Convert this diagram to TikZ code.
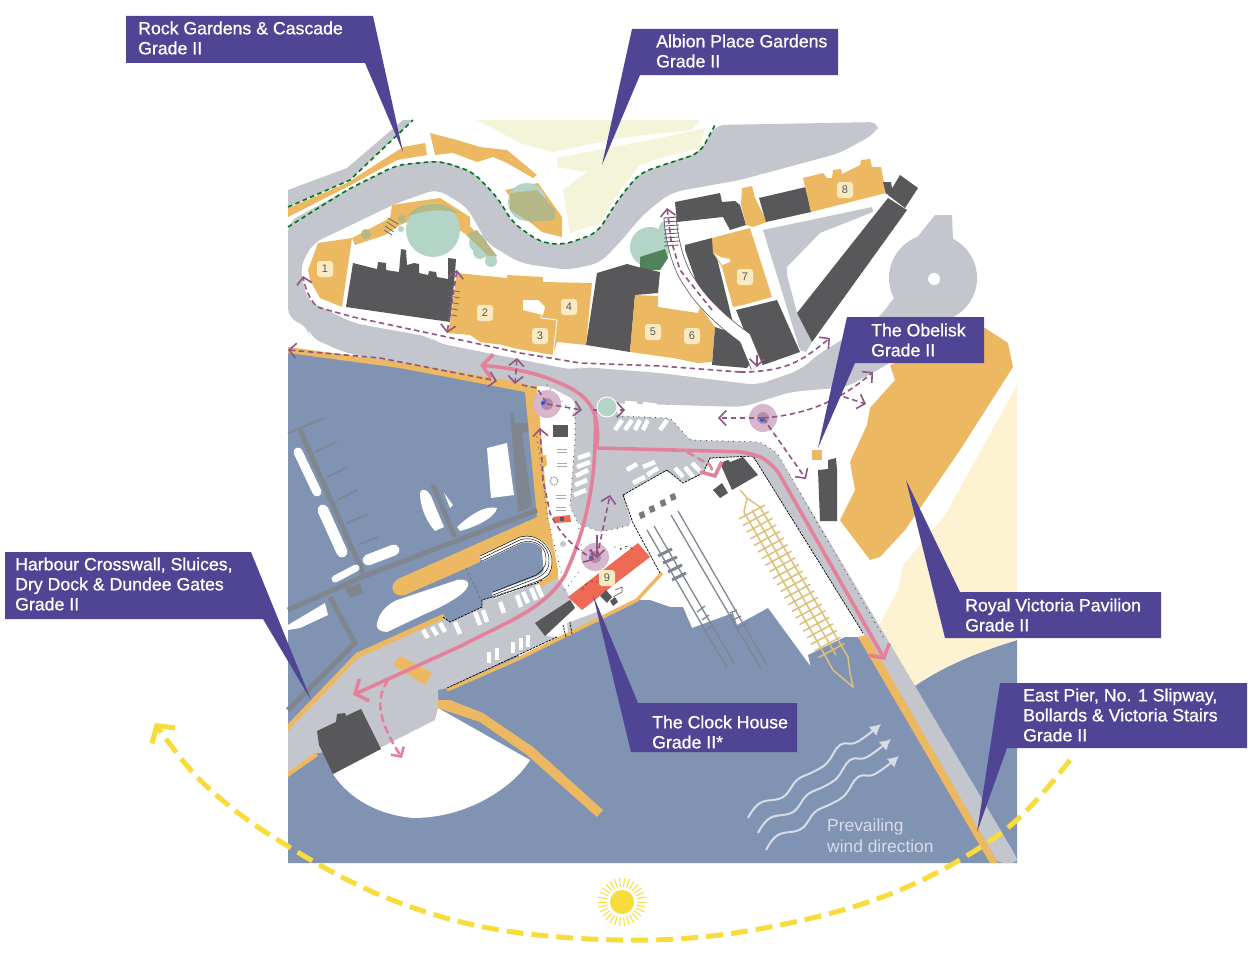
\documentclass[tikz,border=0pt]{standalone}
\usepackage{fontspec}
\setmainfont{Liberation Sans}
\newfontfamily\labelfont[FakeBold=0.9]{Liberation Sans}
\usetikzlibrary{arrows.meta}
\definecolor{waterblue}{HTML}{8093B3}
\definecolor{roadgrey}{HTML}{C4C6CE}
\definecolor{listed}{HTML}{ECB862}
\definecolor{darkbuild}{HTML}{58585A}
\definecolor{calloutblue}{HTML}{4F4594}
\definecolor{routepink}{HTML}{E5809A}
\definecolor{routeplum}{HTML}{8F5585}
\definecolor{sunyellow}{HTML}{F8DC3C}
\definecolor{beachcream}{HTML}{FDF3D2}
\definecolor{gardencream}{HTML}{F3F4D8}
\definecolor{treeteal}{HTML}{B3D5C8}
\definecolor{treeolive}{HTML}{B5B786}
\definecolor{clockred}{HTML}{EE6A55}
\definecolor{pontoon}{HTML}{80868F}
\definecolor{wavegrey}{HTML}{D8DCE6}
\definecolor{latticetan}{HTML}{DCC07A}
\definecolor{hubpink}{HTML}{D8B6CB}
\definecolor{hubinner}{HTML}{B48BAB}
\begin{document}
\begin{tikzpicture}[x=1pt,y=-1pt,
    road/.style={fill=roadgrey,rounded corners=10pt},
    build/.style={fill=darkbuild},
    heritage/.style={fill=listed},
    callout/.style={fill=calloutblue},
    calltext/.style={anchor=west,inner sep=0pt,align=left,text=white,font=\labelfont\fontsize{17.7}{20}\selectfont},
    numbox/.style={fill=beachcream!85!listed,rounded corners=3pt,inner sep=0pt,minimum size=16pt,text=darkbuild,font=\fontsize{11}{11}\selectfont},
    bay/.style={draw=white,line width=4.5pt},
    finger/.style={draw=pontoon,line width=1.6pt},
    pontoonline/.style={draw=pontoon,line width=5pt},
    boatline/.style={draw=white,line cap=round},
    walkroute/.style={draw=routeplum,line width=1.6pt,dash pattern=on 5.5pt off 3.5pt},
    walkhead/.style={-{Straight Barb[length=7pt,width=15pt,line width=1.6pt]}},
    walkheads/.style={{Straight Barb[length=7pt,width=15pt,line width=1.6pt]}-{Straight Barb[length=7pt,width=15pt,line width=1.6pt]}},
    mainroute/.style={draw=routepink,line width=3.6pt},
    mainhead/.style={-{Straight Barb[length=10pt,width=24pt,line width=3.6pt]}},
    greendash/.style={draw=green!45!black!80!teal,line width=1.6pt,dash pattern=on 4.5pt off 3.5pt},
    dotline/.style={draw=black!75,line width=1.1pt,line cap=round,dash pattern=on 0pt off 5.5pt},
    quayline/.style={draw=black,line width=.7pt,dash pattern=on 2.5pt off 1pt},
    hub/.style={fill=hubpink},
    tierail/.style={draw=pontoon,line width=1.3pt},
    lattice/.style={draw=latticetan,line width=1.5pt}]
\useasboundingbox (0,0) rectangle (1252,958);

% water and beach
\fill[waterblue] (288,350) -- (527,388) -- (545,585) -- (505,640) -- (520,658) -- (637,600) -- (650,600) -- (670,607) -- (683,607) -- (692,628) -- (733,613) -- (737,625) -- (768,608) -- (822,682) -- (815,686) -- (808,655) -- (845,637) -- (857,637) -- (913,687) .. controls (950,662) and (985,650) .. (1017,640) -- (1017,863) -- (288,863) -- cycle;
\fill[beachcream] (1017,385) -- (1017,640) .. controls (985,650) and (950,662) .. (913,687) -- (878,627) -- (898,590) -- (903,565) -- (945,515) -- cycle;

% gardens
\fill[gardencream] (477,120) -- (700,120) -- (692,130) -- (620,138) -- (553,152) -- (520,143) -- cycle;
\fill[gardencream] (705,128) -- (660,138) -- (557,158) -- (557,167) -- (587,172) -- (563,190) -- (570,233) -- (600,223) -- (620,190) -- (640,165) -- (660,158) -- (700,148) -- cycle;

% roads
\filldraw[road,draw=none] (288,222) -- (347,190) -- (397,165) -- (440,160) -- (473,172) -- (497,197) -- (513,223) -- (540,242) -- (563,245) -- (597,233) -- (620,197) -- (640,173) -- (660,166) -- (700,152) -- (715,125) -- (880,122) -- (876,133) -- (840,153) -- (740,180) -- (673,192) -- (657,203) -- (640,218) -- (622,240) -- (600,263) -- (567,270) -- (520,263) -- (487,243) -- (467,207) -- (437,189) -- (397,203) -- (347,227) -- (313,243) -- (300,267) -- (307,300) -- (353,323) -- (430,337) -- (437,343) -- (573,370) -- (583,367) -- (660,373) -- (757,385) -- (800,370) -- (820,353) -- (847,337) -- (880,317) -- (897,293) -- (950,317) -- (890,363) -- (847,387) -- (790,392) -- (743,407) -- (640,404) -- (600,403) -- (575,400) -- (547,385) -- (527,388) -- (400,365) -- (343,352) -- (310,337) -- (308,327) -- (288,318) -- cycle;
\fill[roadgrey] (288,190) -- (347,168) -- (403,120) -- (413,120) -- (350,180) -- (288,207) -- cycle;
\fill[roadgrey] (933,278) circle (44);
\fill[roadgrey] (935,215) -- (952,215) -- (953,240) -- (915,240) -- cycle;
\fill[white] (934,279) circle (6);
\fill[roadgrey] (763,230) -- (872,207) -- (873,212) -- (820,233) -- (787,267) -- (787,275) -- (797,313) -- (812,342) -- (806,352) -- (800,350) -- cycle;
\fill[road,rounded corners=5pt] (547,385) -- (575,400) -- (575,440) -- (570,507) -- (578,523) -- (600,532) -- (632,525) -- (623,495) -- (667,470) -- (683,483) -- (703,473) -- (710,458) -- (753,456) -- (863,633) -- (998,863) -- (1017,863) -- (1017,858) -- (777,453) -- (760,442) -- (690,440) -- (670,418) -- (617,416) -- (617,404) -- (600,403) -- cycle;
\fill[roadgrey] (288,727) -- (357,655) -- (443,617) -- (450,622) -- (482,607) -- (482,600) -- (537,583) -- (558,578) -- (567,592) -- (575,608) -- (545,636) -- (557,637) -- (447,688) -- (438,690) -- (438,708) -- (435,720) -- (380,748) -- (317,753) -- (288,773) -- cycle;
\fill[roadgrey] (567,623) -- (597,612) -- (603,620) -- (568,632) -- cycle;

% beach below the slipway
\fill[white] (333,774) -- (380,748) -- (435,720) -- (438,708) -- (530,760) .. controls (515,785) and (470,818) .. (413,818) .. controls (380,815) and (350,800) .. (333,774) -- cycle;

% harbour walls and quays
\fill[heritage] (288,347) -- (400,362) -- (523,383) -- (530,387) -- (537,385) -- (548,517) -- (558,570) -- (558,578) -- (540,587) -- (537,583) .. controls (552,565) and (553,545) .. (540,542) .. controls (530,535) and (525,536) .. (520,538) -- (480,557) -- (480,562) -- (405,595) .. controls (392,598) and (388,585) .. (398,579) -- (537,517) -- (525,392) -- (400,368) -- (288,353) -- cycle;
\fill[heritage] (438,700) -- (450,700) -- (483,713) -- (533,747) -- (603,810) -- (597,817) -- (527,755) -- (480,722) -- (438,708) -- cycle;
\fill[heritage] (858,637) -- (867,635) -- (998,863) -- (990,863) -- cycle;
\fill[heritage] (288,724) -- (356,653) -- (443,614) -- (446,618) -- (358,658) -- (288,731) -- cycle;
\fill[heritage] (288,772) -- (316,752) -- (318,756) -- (288,777) -- cycle;
\draw[listed,line width=3.5pt] (447,690) -- (520,658) -- (637,600) -- (662,573);
\fill[heritage] (393,665) -- (400,656) -- (432,673) -- (425,685) -- cycle;
\fill[heritage] (540,456) -- (546,455) -- (547,465) -- (541,470) -- cycle;

% pontoons
\draw[pontoonline] (288,610) -- (362,577) -- (537,510);
\fill[pontoon] (510,413) -- (513,413) -- (515,423) -- (528,423) -- (528,432) -- (522,433) -- (528,475) -- (532,507) -- (518,512) -- cycle;
\draw[pontoonline] (300,430) -- (363,573);
\draw[pontoonline] (433,485) -- (455,537);
\draw[pontoonline] (330,597) -- (355,643) -- (288,710);
\fill[pontoon] (345,588) -- (360,583) -- (363,593) -- (350,598) -- cycle;
\foreach \xa/\ya/\xb/\yb in {288/433/325/418,315/452/337/442,327/477/348/467,337/500/358/490,347/523/368/514,358/545/378/537}
  \draw[finger] (\xa,\ya) -- (\xb,\yb);

% boats
\draw[boatline,line width=9pt] (298,452) -- (317,492);
\draw[boatline,line width=11pt] (323,510) -- (342,552);
\draw[boatline,line width=11pt] (368,560) -- (394,550);
\draw[boatline,line width=7pt] (335,579) -- (356,568);
\fill[white] (288,625) -- (325,603) -- (328,615) -- (300,628) -- (288,630) -- cycle;
\fill[white] (487,448) -- (507,443) -- (514,495) -- (491,498) -- cycle;
\fill[white] (420,493) .. controls (422,487) and (428,490) .. (431,496) -- (444,527) -- (435,531) .. controls (425,520) and (420,505) .. (420,493) -- cycle;
\fill[white] (444,493) -- (453,505) -- (450,508) -- cycle;
\fill[white] (457,527) .. controls (470,515) and (485,505) .. (497,508) .. controls (495,518) and (475,527) .. (460,531) -- cycle;
\fill[white] (377,623) .. controls (380,610) and (390,603) .. (397,600) -- (457,580) .. controls (465,578) and (470,582) .. (468,586) .. controls (465,595) and (440,608) .. (427,613) -- (387,632) .. controls (380,632) and (375,628) .. (377,623) -- cycle;

% basin rings and gate
\draw[white,line width=6pt] (481,559) -- (521,540) .. controls (540,536) and (551,550) .. (549,562) .. controls (549,572) and (544,576) .. (538,579) -- (493,596);
\foreach \off in {0,3,6}
  \draw[black,line width=.45pt] ([shift={(\off*.2,\off*.9)}]480,556) -- ([shift={(\off*.2,\off*.9)}]520,537) .. controls ([shift={(\off*-.2,\off)}]540,532) and ([shift={(-\off,0)}]553,550) .. ([shift={(-\off,\off*-.3)}]552,562) .. controls ([shift={(-\off,-\off)}]552,575) and ([shift={(-\off,-\off)}]545,578) .. ([shift={(-\off*.3,-\off)}]538,581) -- ([shift={(0,-\off)}]493,598);
\draw[darkbuild!80,line width=1pt,dash pattern=on 3pt off 2pt] (466,568) -- (482,602);

% parking bays
\foreach \xa/\ya/\xb/\yb in {615/430/622/420,625/430/632/420,635/430/640/420,643/430/648/420,660/430/667/420,625/403/637/404,643/404/657/406,670/407/683/408,685/408/698/409,702/409/713/410,733/409/746/409,578/458/590/454,577/467/590/462,576/476/588/470,575/485/587/480,574/495/586/490,627/470/637/464,643/467/655/462,647/475/658/468,633/483/645/477,675/468/683/477,685/467/693/477,692/463/702/473,500/602/504/613,517/595/521/607,523/592/528/603,531/588/536/600,537/585/542/597,475/612/480/625,483/610/487/622,455/622/460/634,423/630/428/638,432/627/437/635,440/623/445/632,489/652/489/663,497/648/497/660,513/642/513/653,521/638/521/650,528/635/528/647}
  \draw[bay] (\xa,\ya) -- (\xb,\yb);

% trees
\fill[heritage] (308,270) -- (318,243) -- (352,238) -- (342,307) -- (320,298) -- (310,280) -- cycle;
\fill[heritage] (352,238) -- (390,218) -- (392,205) -- (440,198) -- (470,217) -- (470,226) -- (497,256) -- (490,262) -- (467,235) -- (432,212) -- (400,225) -- (385,235) -- (355,245) -- cycle;
\fill[treeteal] (433,230) circle (27);
\fill[treeolive] (408,216) .. controls (420,200) and (445,200) .. (459,214) .. controls (445,208) and (425,210) .. (408,216) -- cycle;
\fill[treeteal] (478,243) circle (9) (480,252) circle (7) (491,261) circle (6) (401,229) circle (3);
\fill[treeolive] (366,234) circle (5) (402,219) circle (4);
\fill[treeolive] (466,235) -- (477,230) -- (497,256) -- (489,256) -- cycle;
\fill[heritage] (430,133) -- (457,140) -- (480,147) -- (507,150) -- (537,175) -- (533,178) -- (507,163) -- (493,157) -- (477,162) -- (453,153) -- (435,155) -- cycle;
\fill[heritage] (505,190) -- (538,183) -- (562,217) -- (562,237) -- (542,232) -- (525,218) -- cycle;
\fill[treeteal] (527,202) circle (19);
\fill[treeolive] (510,193) -- (537,190) -- (555,210) -- (555,220) -- (530,222) -- (510,210) -- cycle;
\fill[heritage] (288,217) -- (288,208) -- (347,183) -- (403,147) -- (425,143) -- (427,155) -- (397,160) -- (347,187) -- cycle;
\fill[treeteal] (650,247) circle (20) (666,228) circle (7);
\fill[green!25!black!55!treeteal] (640,257) -- (665,249) -- (668,258) -- (660,270) -- (640,270) -- cycle;

% buildings
\fill[build] (346,307) -- (353,263) -- (377,269) -- (378,262) -- (386,263) -- (386,270) -- (399,272) -- (401,249) -- (406,250) -- (407,265) -- (414,263) -- (419,264) -- (419,273) -- (428,275) -- (429,271) -- (436,272) -- (437,277) -- (448,279) -- (448,258) -- (456,259) -- (455,273) -- (450,322) -- cycle;
\fill[heritage] (457,273) -- (507,278) -- (507,275) -- (543,277) -- (543,282) -- (592,283) -- (586,345) -- (557,342) -- (553,355) -- (513,348) -- (503,345) -- (480,342) -- (470,335) -- (447,333) -- (450,323) -- cycle;
\fill[white] (523,300) -- (538,300) -- (545,307) -- (543,315) -- (523,310) -- cycle;
\draw[white,line width=.9pt] (541,315) -- (541,318) (541,318) -- (557,320) -- (553,355);
\fill[build] (597,273) -- (627,264) -- (638,267) -- (660,272) -- (658,293) -- (635,295) -- (630,352) -- (586,345) -- cycle;
\fill[heritage] (635,295) -- (658,296) -- (658,307) -- (698,313) -- (700,307) -- (715,327) -- (712,362) -- (698,363) -- (673,358) -- (630,352) -- cycle;
\fill[build] (715,327) -- (712,365) -- (747,368) -- (752,360) -- (733,333) -- cycle;
\fill[build] (685,245) -- (712,238) -- (733,323) -- (723,317) -- (698,287) -- (685,250) -- cycle;
\fill[build] (675,202) -- (720,193) -- (722,202) -- (735,201) -- (740,205) -- (746,225) -- (730,230) -- (723,217) -- (677,222) -- cycle;
\fill[heritage] (742,188) -- (752,186) -- (755,198) -- (767,222) -- (753,227) -- (746,225) -- (741,205) -- cycle;
\fill[heritage] (712,238) -- (750,228) -- (772,297) -- (743,305) -- (733,307) -- (722,267) -- (713,253) -- cycle;
\fill[white] (714,253) -- (720,257) -- (730,259) -- (730,262) -- (722,265) -- cycle;
\fill[build] (736,310) -- (777,300) -- (800,352) -- (763,365) -- (752,350) -- cycle;
\fill[build] (759,198) -- (806,187) -- (811,212) -- (766,222) -- cycle;
\fill[heritage] (803,178) -- (823,173) -- (827,178) -- (832,178) -- (833,170) -- (841,169) -- (842,174) -- (860,165) -- (861,160) -- (870,159) -- (872,167) -- (881,167) -- (886,193) -- (811,212) -- cycle;
\fill[build] (883,182) -- (891,182) -- (893,194) -- (886,194) -- cycle;
\fill[build] (900,175) -- (918,188) -- (905,208) -- (888,195) -- cycle;
\fill[build] (888,198) -- (907,210) -- (812,342) -- (797,313) -- cycle;
\fill[build] (317,731) -- (336,722) -- (337,714) -- (345,713) -- (346,716) -- (361,709) -- (381,749) -- (333,774) -- (319,745) -- cycle;
\fill[build] (535,623) -- (570,600) -- (575,608) -- (545,636) -- cycle;
\fill[build] (720,463) -- (728,460) -- (730,462) -- (743,457) -- (758,475) -- (732,490) -- cycle;
\fill[build] (713,490) -- (722,483) -- (728,493) -- (720,498) -- cycle;
\fill[build] (818,470) -- (828,469) -- (828,460) -- (836,458) -- (837,470) -- (837,521) -- (820,521) -- cycle;
\fill[heritage] (812,450) rectangle (822,460);
\fill[build] (553,425) rectangle (568,437);
\fill[heritage] (840,520) -- (855,490) -- (850,462) -- (867,425) -- (870,408) -- (895,380) -- (890,365) -- (985,328) -- (1008,343) -- (1013,367) -- (960,450) -- (905,530) -- (880,557) -- (870,560) -- (842,523) -- cycle;

% clock house
\fill[clockred] (568,597) -- (638,543) -- (650,557) -- (620,580) -- (582,610) -- cycle;
\fill[clockred] (553,517) -- (570,515) -- (571,522) -- (555,523) -- cycle;
\fill[build] (560,517) rectangle (564,521);
\fill[build] (600,596) -- (606,590) -- (612,597) -- (607,603) -- cycle;
\fill[build] (610,601) -- (615,597) -- (618,602) -- (613,606) -- cycle;
\draw[darkbuild,line width=.6pt] (615,590) -- (622,587) -- (622,592) -- (613,597);

% island furniture
\foreach \xa/\ya in {557/449,557/452,557/463,557/466,556/495,556/498,556/507,556/510}
  \draw[pontoon!70,line width=1pt] (\xa,\ya) -- ++(10,0);
\draw[pontoon!70,densely dotted,line width=1.5pt] (554,481) circle (4);
\fill[roadgrey] (563,544) circle (3);

% slipway and rails
\foreach \xa/\ya/\xb/\yb in {647/530/727/668,654/526/734/663,671/515/761/669,678/511/767/665}
  \draw[tierail] (\xa,\ya) -- (\xb,\yb);
\foreach \xa/\ya/\xb/\yb in {658/556/672/549,663/563/677/557,668/572/682/565,672/580/686/573}
  \draw[pontoon,line width=3pt] (\xa,\ya) -- (\xb,\yb);
\foreach \xa/\ya/\xb/\yb in {697/612/705/606,702/620/709/615,704/632/713/625,730/613/737/610,733/620/741/616,738/628/747/623}
  \draw[tierail] (\xa,\ya) -- (\xb,\yb);
\foreach \cx/\cy in {642/515,652/509,663/503,673/497}
  \fill[darkbuild!80] (\cx-3.5,\cy-2) -- (\cx+1.5,\cy-4) -- (\cx+3.5,\cy+2) -- (\cx-1.5,\cy+4) -- cycle;

% lattice pier
\draw[lattice] (740,490) -- (747,498);
\draw[lattice] (744,512) -- (747,498) -- (760,507);
\draw[lattice] (744,512) -- (822,650) -- (833,670) -- (853,687) -- (850,673) -- (848,657) -- (760,507);
\draw[lattice] (752,510) -- (836,655);
\foreach \i in {0,...,21}
  \draw[lattice] (752+\i*3.78-13,512+\i*6.6+7) -- (752+\i*3.78+13,512+\i*6.6-7);

% dotted and dashed edges
\draw[quayline] (623,495) -- (667,470) -- (683,483) -- (703,473) -- (710,458) -- (753,456) -- (863,633);
\draw[quayline] (623,495) -- (633,523) -- (660,573);
\draw[quayline] (443,617) -- (450,622) -- (482,607) -- (482,600) -- (537,583) -- (542,580);
\draw[quayline] (447,688) -- (557,637);
\draw[quayline] (566,637) -- (563,625) (572,634) -- (570,622);
\draw[dotline] (617,416) -- (670,418) -- (690,440) -- (760,442) -- (777,453) -- (885,640);
\draw[dotline] (547,385) -- (575,415) -- (575,440) -- (570,507) -- (578,523) -- (600,532) -- (632,525);
\draw[dotline] (537,437) -- (548,520) -- (562,575);
\draw[dotline] (578,523) -- (582,552);
\draw[dotline] (565,590) -- (580,570);
\draw[dotline] (615,547) .. controls (620,550) and (625,548) .. (632,548);
\draw[black!70,line width=.6pt,dashed] (582,590) .. controls (585,583) and (590,580) .. (598,582);
\draw[black!70,line width=.6pt,dashed] (620,550) .. controls (625,545) and (630,545) .. (633,550);

% stair path
\draw[darkbuild,line width=13pt] (670,217) .. controls (672,245) and (680,270) .. (690,283) .. controls (700,300) and (720,320) .. (745,338) -- (757,367);
\draw[white,line width=11.5pt] (670,217) .. controls (672,245) and (680,270) .. (690,283) .. controls (700,300) and (720,320) .. (745,338) -- (757,367);
\foreach \yy in {218,222,226,230,234,238,242,246}
  \draw[darkbuild,line width=.8pt] (664,\yy) -- (679,\yy-1);
\foreach \xa/\ya/\xb/\yb in {448/290/460/292,448/296/460/298,448/302/459/304,447/308/458/310,447/314/457/316,388/218/398/224,387/222/396/228,385/226/394/232,384/230/392/235}
  \draw[darkbuild!90,line width=.8pt] (\xa,\ya) -- (\xb,\yb);

% green paths
\draw[greendash,rounded corners=10pt] (288,227) -- (347,190) -- (397,165) -- (440,161) -- (473,172) -- (497,197) -- (513,223) -- (540,242) -- (563,245) -- (597,233) -- (620,197) -- (640,173) -- (660,166) -- (700,153) -- (715,125);
\draw[greendash] (288,207) -- (350,180) -- (413,120);

% pink route
\draw[mainroute,mainhead] (597,448) .. controls (600,410) and (590,395) .. (557,382) .. controls (535,372) and (510,368) .. (480,365);
\draw[mainroute,mainhead] (595,410) .. controls (597,470) and (590,520) .. (565,575) .. controls (545,610) and (500,625) .. (463,645) -- (353,695);
\draw[mainroute,mainhead,rounded corners=14pt] (597,448) -- (750,452) -- (773,463) -- (885,660);
\draw[routepink,line width=2.5pt,dash pattern=on 8pt off 4pt,mainhead] (687,452) -- (710,465) -- (716,478);
\draw[routepink,line width=2.5pt,dash pattern=on 8pt off 4pt,-{Straight Barb[length=7pt,width=15pt,line width=2.5pt]}] (388,680) .. controls (375,700) and (378,720) .. (402,758);

% visitor hubs
\fill[hub] (547,404) circle (14) (763,418) circle (14) (595,557) circle (14);
\fill[hubinner] (547,404) circle (6) (763,418) circle (6) (595,557) circle (6);
\foreach \cx/\cy in {543/403,762/420,591/558}
  \fill[blue!60!cyan] (\cx,\cy) circle (2);

% walking routes
\draw[walkroute,walkhead] (740,372) -- (660,366) -- (580,363) -- (520,353) -- (447,337) -- (353,317) -- (317,307) .. controls (308,297) and (305,287) .. (303,276);
\draw[walkroute,walkhead] (740,372) .. controls (790,372) and (805,358) .. (830,338);
\draw[walkroute,walkheads] (457,270) -- (447,333);
\draw[walkroute,walkheads] (288,350) -- (380,358) -- (497,381);
\draw[walkroute,walkheads] (517,358) -- (515,384);
\draw[walkroute] (522,385) -- (537,388) -- (547,404);
\draw[walkroute,walkhead] (547,404) -- (582,410);
\draw[walkroute,walkhead] (593,410) -- (625,410);
\draw[walkroute,walkhead] (763,418) -- (718,418);
\draw[walkroute,walkhead] (763,418) .. controls (800,415) and (835,405) .. (873,372);
\draw[walkroute,walkhead] (835,394) -- (866,404);
\draw[walkroute,walkhead] (763,418) -- (806,479);
\draw[walkroute,walkheads] (540,428) -- (543,480) -- (550,513) .. controls (560,535) and (575,548) .. (594,560);
\draw[walkroute,walkhead] (597,557) -- (610,495);
\draw[routeplum,line width=1.6pt,-{Straight Barb[length=7pt,width=15pt,line width=1.6pt]}] (597,535) -- (597,558);
\draw[routeplum,line width=1.6pt,-{Straight Barb[length=7pt,width=15pt,line width=1.6pt]}] (757,355) -- (757,367);
\draw[walkroute,walkhead] (712,310) -- (680,270) -- (671,240) -- (667,208);

% small tree by the road
\fill[treeteal,draw=white,line width=1pt] (607,407) circle (10);

% wind
\foreach \dx/\dy in {0/0,10/15,18/32}
  \draw[wavegrey,line width=2pt,-{Latex[length=11pt,width=12pt]}] plot[smooth,tension=.7] coordinates {(748+\dx,818+\dy) (760+\dx,803+\dy) (783+\dx,797+\dy) (797+\dx,780+\dy) (813+\dx,772+\dy) (827+\dx,763+\dy) (840+\dx,745+\dy) (857+\dx,742+\dy) (881+\dx,724+\dy)};
\node[anchor=west,inner sep=0pt,align=left,text=wavegrey,font=\fontsize{17.4}{21}\selectfont] (WindText) at (827,836) {Prevailing\\wind direction};

% sun path
\draw[sunyellow,line width=5pt,dash pattern=on 17pt off 8pt,-{Straight Barb[length=12pt,width=28pt,line width=5pt]}] plot[smooth,tension=.6] coordinates {(1070,760) (1005,830) (900,890) (780,925) (650,940) (500,930) (380,895) (270,835) (200,780) (155,723)};
\fill[sunyellow] (622,902) circle (12);
\foreach \a in {0,12,...,348}
  \draw[sunyellow,line width=1pt] (622,902) ++(\a:15) -- ++(\a:9);

% numbers
\node[numbox] (Num1) at (325,269) {1};
\node[numbox] (Num2) at (485,313) {2};
\node[numbox] (Num3) at (540,336) {3};
\node[numbox] (Num4) at (569,307) {4};
\node[numbox] (Num5) at (653,332) {5};
\node[numbox] (Num6) at (692,336) {6};
\node[numbox] (Num7) at (745,277) {7};
\node[numbox] (Num8) at (845,190) {8};
\node[numbox] (Num9) at (607,578) {9};

% callouts
\fill[callout] (126,16) -- (373,16) -- (403,152) -- (365,63) -- (126,63) -- cycle;
\fill[callout] (632,29) -- (838,29) -- (838,75) -- (640,75) -- (602,165) -- cycle;
\fill[callout] (847,317) -- (984,317) -- (984,363) -- (855,363) -- (818,448) -- cycle;
\fill[callout] (906,480) -- (960,592) -- (1161,592) -- (1161,638) -- (945,638) -- cycle;
\fill[callout] (1000,683) -- (1247,683) -- (1247,748) -- (1007,748) -- (977,832) -- cycle;
\fill[callout] (593,595) -- (638,703) -- (797,703) -- (797,752) -- (631,752) -- cycle;
\fill[callout] (5,552) -- (251,552) -- (311,700) -- (263,619) -- (5,619) -- cycle;
\node[calltext] (RockLabel) at (138,38) {Rock Gardens \& Cascade\\Grade II};
\node[calltext] (AlbionLabel) at (656,51) {Albion Place Gardens\\Grade II};
\node[calltext] (ObeliskLabel) at (871,340) {The Obelisk\\Grade II};
\node[calltext] (PavilionLabel) at (965,615) {Royal Victoria Pavilion\\Grade II};
\node[calltext] (PierLabel) at (1023,715) {East Pier, No. 1 Slipway,\\Bollards \& Victoria Stairs\\Grade II};
\node[calltext] (ClockLabel) at (652,732) {The Clock House\\Grade II*};
\node[calltext] (HarbourLabel) at (15,584) {Harbour Crosswall, Sluices,\\Dry Dock \& Dundee Gates\\Grade II};
\end{tikzpicture}
\end{document}
